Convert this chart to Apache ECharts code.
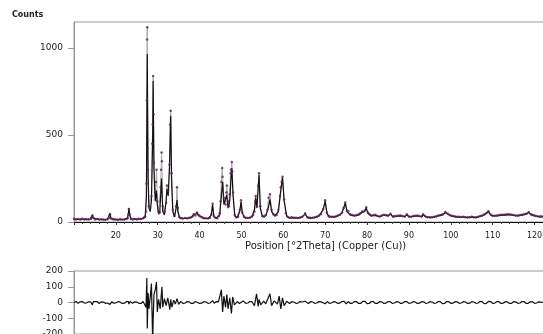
<!DOCTYPE html>
<html><head><meta charset="utf-8">
<script src="https://cdn.jsdelivr.net/npm/echarts@6/dist/echarts.min.js"></script>
<style>html,body{margin:0;padding:0;background:#fff}#c{width:543px;height:334px}</style>
</head><body><div id="c"></div>
<script>
// 2Theta positions / counts — calculated profile
const calcPts = [[10,16],[11,15],[12,16],[13,15],[14,16],[14.2,25],[14.4,40],[14.6,22],[15,16],[16,15],[17,14],[18,15],[18.4,22],[18.6,50],[18.8,22],[19.2,15],[20,14],[21,14],[22,15],[22.8,20],[23,50],[23.1,80],[23.3,40],[23.6,17],[24.5,16],[25.5,17],[26.5,20],[27,30],[27.3,150],[27.5,966],[27.7,250],[27.9,80],[28.2,60],[28.5,120],[28.8,500],[28.9,811],[29.1,300],[29.4,120],[29.7,180],[29.9,100],[30.2,45],[30.5,60],[30.9,250],[31.2,60],[31.6,40],[32,120],[32.2,190],[32.5,150],[32.8,300],[33.1,611],[33.3,250],[33.6,60],[34,30],[34.4,80],[34.6,126],[34.8,60],[35.2,25],[36,20],[37,20],[38,25],[38.6,40],[39,35],[39.4,50],[39.8,35],[40.4,30],[41,20],[42,20],[42.8,40],[43.1,100],[43.4,30],[44,22],[44.8,40],[45.2,150],[45.5,230],[45.8,100],[46.2,90],[46.5,155],[46.8,80],[47.2,120],[47.5,250],[47.7,310],[48,150],[48.4,35],[49,25],[49.6,60],[49.9,116],[50.2,50],[50.8,25],[51.5,22],[52.5,30],[53.1,70],[53.4,140],[53.7,80],[54,200],[54.2,270],[54.5,80],[55,30],[55.8,35],[56.4,80],[56.8,130],[57.2,60],[58,35],[58.8,60],[59.4,180],[59.8,257],[60.2,120],[60.8,35],[61.5,22],[62.5,25],[63.5,22],[64.5,28],[65.2,45],[65.8,25],[66.5,22],[67.5,25],[68.5,35],[69.5,70],[70,120],[70.4,50],[71,30],[72,28],[73,35],[74,50],[74.8,110],[75.2,60],[75.5,60],[76,40],[77,35],[78,40],[78.8,55],[79.4,60],[79.8,80],[80.2,50],[81,35],[82,38],[83,30],[84,40],[85,35],[85.6,45],[86.2,30],[87,32],[88,35],[89,30],[89.5,42],[90,30],[91,32],[92,35],[93,30],[93.4,42],[94,30],[95,25],[96,28],[97,35],[98,40],[98.7,55],[99.3,45],[100,35],[101,30],[102,28],[103,28],[104,25],[105,28],[106,25],[107,32],[108,40],[109,60],[109.6,38],[110,32],[111,35],[112,38],[113,40],[114,42],[115,38],[116,35],[117,40],[118,45],[118.6,55],[119.2,40],[120,35],[121,30],[122,30],[122.5,31]];

// observed counts
const obsPts = [[10,18],[10.5,15],[11,17],[11.5,14],[12,18],[12.5,15],[13,16],[13.5,14],[14,18],[14.2,28],[14.4,38],[14.6,25],[15,15],[15.5,17],[16,14],[16.5,16],[17,15],[17.5,13],[18,16],[18.4,25],[18.6,45],[18.8,20],[19.2,17],[19.5,14],[20,15],[20.5,13],[21,16],[21.5,14],[22,15],[22.5,17],[22.8,22],[23,45],[23.1,75],[23.3,45],[23.6,18],[24,15],[24.5,17],[25,15],[25.5,19],[26,17],[26.5,22],[26.8,28],[27,32],[27.2,60],[27.3,220],[27.4,700],[27.45,1050],[27.5,1120],[27.6,420],[27.7,300],[27.9,90],[28.2,80],[28.5,150],[28.7,450],[28.8,560],[28.9,840],[29,620],[29.1,340],[29.4,170],[29.6,230],[29.7,300],[29.9,120],[30.2,60],[30.5,55],[30.7,200],[30.8,300],[30.9,400],[31,350],[31.2,90],[31.6,60],[32,110],[32.2,210],[32.5,180],[32.8,330],[32.95,560],[33.1,640],[33.3,280],[33.6,70],[34,35],[34.4,90],[34.6,200],[34.8,80],[35.2,28],[35.6,22],[36,20],[36.5,23],[37,21],[37.5,25],[38,28],[38.4,35],[38.6,45],[39,38],[39.4,55],[39.8,40],[40.2,32],[40.6,28],[41,22],[41.5,21],[42,20],[42.5,25],[42.8,45],[43.1,105],[43.4,35],[43.8,25],[44.2,22],[44.6,35],[44.8,50],[45,120],[45.2,230],[45.4,310],[45.5,260],[45.8,140],[46.2,100],[46.4,170],[46.5,210],[46.8,120],[47,90],[47.2,160],[47.4,280],[47.5,300],[47.7,345],[47.8,290],[48,170],[48.4,40],[48.8,28],[49.2,30],[49.6,70],[49.9,125],[50.2,55],[50.6,30],[51,25],[51.5,23],[52,25],[52.5,32],[52.8,40],[53.1,60],[53.3,120],[53.4,150],[53.7,90],[54,210],[54.2,280],[54.5,90],[55,35],[55.4,30],[55.8,40],[56.2,70],[56.5,140],[56.8,160],[57.2,70],[57.6,45],[58,38],[58.4,40],[58.8,70],[59.2,150],[59.4,200],[59.6,230],[59.8,260],[60.2,130],[60.6,50],[61,30],[61.5,24],[62,27],[62.5,25],[63,24],[63.5,23],[64,26],[64.5,30],[65.2,50],[65.8,28],[66.2,24],[66.5,23],[67,25],[67.5,27],[68,30],[68.5,38],[69,45],[69.5,75],[70,125],[70.4,55],[70.8,35],[71,32],[71.5,30],[72,30],[72.5,32],[73,38],[73.5,42],[74,55],[74.4,80],[74.8,112],[75.2,65],[75.5,62],[76,45],[76.5,40],[77,38],[77.5,40],[78,45],[78.4,50],[78.8,60],[79.4,65],[79.8,85],[80.2,55],[80.6,45],[81,38],[81.5,40],[82,42],[82.5,35],[83,32],[83.5,38],[84,42],[84.5,40],[85,38],[85.6,48],[86.2,32],[86.6,35],[87,34],[87.5,37],[88,38],[88.5,34],[89,32],[89.5,45],[90,32],[90.5,30],[91,34],[91.5,36],[92,38],[92.5,34],[93,32],[93.4,45],[94,32],[94.5,28],[95,27],[95.5,28],[96,30],[96.5,33],[97,37],[97.5,40],[98,44],[98.7,58],[99.3,48],[99.8,40],[100.2,36],[100.6,34],[101,32],[101.5,30],[102,30],[102.5,29],[103,30],[103.5,28],[104,27],[104.5,28],[105,30],[105.5,28],[106,27],[106.5,30],[107,35],[107.5,38],[108,44],[108.5,52],[109,62],[109.6,42],[110,35],[110.5,36],[111,37],[111.5,40],[112,41],[112.5,42],[113,43],[113.5,44],[114,45],[114.5,42],[115,40],[115.5,38],[116,37],[116.5,40],[117,42],[117.5,45],[118,48],[118.6,58],[119.2,44],[119.6,40],[120,38],[120.5,35],[121,32],[121.5,33],[122,32],[122.5,30]];

// difference plot
const diffPts = [[10,0],[10.5,6],[11,-5],[11.5,4],[12,6],[12.5,-4],[13,-2],[13.5,5],[14,3],[14.4,-15],[14.6,5],[15,0],[15.5,6],[16,-6],[16.5,4],[17,3],[17.5,-5],[18,-3],[18.6,-12],[19,4],[19.5,-4],[20,-2],[20.5,5],[21,3],[21.5,-6],[22,-4],[22.5,5],[23,5],[23.1,-10],[23.4,6],[24,-5],[24.5,4],[25,3],[25.5,-5],[26,-6],[26.5,6],[26.8,12],[27.2,-30],[27.4,155],[27.5,-165],[27.7,60],[27.9,-40],[28.2,30],[28.5,120],[28.8,-260],[28.9,-120],[29.1,50],[29.4,80],[29.7,130],[29.9,-60],[30.2,20],[30.6,-40],[31,100],[31.2,-30],[31.6,25],[32,-20],[32.4,30],[32.9,-45],[33.1,20],[33.4,-30],[33.8,15],[34.2,-10],[34.6,25],[35,-12],[35.5,7],[36,-5],[36.5,-4],[37,6],[37.5,4],[38,-6],[38.5,-5],[39,6],[39.4,8],[40,-6],[40.5,-4],[41,5],[41.5,3],[42,-5],[42.5,-3],[43.1,12],[43.5,-5],[44,6],[44.5,4],[45.2,80],[45.5,-60],[45.8,40],[46.2,-30],[46.5,50],[46.8,-40],[47.2,30],[47.6,-70],[47.9,35],[48.3,-15],[49,6],[49.5,-6],[49.9,-15],[50.4,10],[51,-5],[51.5,-3],[52,6],[52.5,5],[53.1,-20],[53.6,55],[54,-25],[54.2,20],[54.6,-15],[55.3,8],[55.8,-8],[56.4,30],[56.8,55],[57.2,-20],[57.8,10],[58.6,-10],[59,40],[59.4,-40],[59.8,30],[60.2,-20],[60.8,8],[61.5,-6],[62,5],[62.5,3],[63,-5],[63.5,-4],[64,6],[64.5,3],[65.2,8],[66,-6],[66.5,5],[67,3],[67.5,-5],[68,-3],[68.5,6],[69,4],[70,-8],[70.5,6],[71,-5],[71.5,-3],[72,5],[72.5,4],[73,-6],[73.5,-4],[74,6],[74.5,8],[75,-8],[75.5,6],[76,-6],[76.5,-4],[77,6],[77.5,5],[78,-6],[78.5,-5],[79,7],[79.5,8],[80,-7],[80.5,-6],[81,6],[81.5,5],[82,-6],[82.5,-5],[83,5],[83.5,4],[84,-6],[84.5,-4],[85,6],[85.5,5],[86,-5],[86.5,-3],[87,5],[87.5,4],[88,-6],[88.5,-4],[89,6],[89.5,5],[90,-5],[90.5,-3],[91,5],[91.5,3],[92,-6],[92.5,-4],[93,5],[93.5,4],[94,-5],[94.5,-3],[95,5],[95.5,3],[96,-5],[96.5,-3],[97,6],[97.5,5],[98,-7],[98.5,-6],[99,6],[99.5,5],[100,-5],[100.5,-4],[101,5],[101.5,4],[102,-5],[102.5,-3],[103,5],[103.5,3],[104,-6],[104.5,-4],[105,5],[105.5,3],[106,-5],[106.5,-3],[107,6],[107.5,5],[108,-7],[108.5,-6],[109,7],[109.5,6],[110,-5],[110.5,-4],[111,6],[111.5,5],[112,-6],[112.5,-4],[113,5],[113.5,4],[114,-6],[114.5,-5],[115,5],[115.5,4],[116,-5],[116.5,-3],[117,6],[117.5,5],[118,-6],[118.5,-5],[119,5],[119.5,4],[120,-5],[120.5,-3],[121,4],[121.5,3],[122,0],[122.5,3]];

const xTitle = 'Position [°2Theta] (Copper (Cu))';
const yTitle = 'Counts';

const FONT = 'DejaVu Sans';
const chart = echarts.init(document.getElementById('c'), null, {renderer: 'canvas'});
const lbl = {fontFamily: FONT, fontSize: 8, color: '#222'};
chart.setOption({
  animation: false,
  backgroundColor: '#fff',
  grid: [
    {left: 74, right: -2, top: 22, height: 200, show: true, borderColor: '#999', borderWidth: 1, outerBoundsMode: 'none'},
    {left: 74, right: -2, top: 271, height: 63, show: true, borderColor: '#999', borderWidth: 1, outerBoundsMode: 'none'}
  ],
  xAxis: [
    {gridIndex: 0, type: 'value', min: 10, max: 122.5, interval: 10,
     axisLine: {show: true, onZero: false, lineStyle: {color: '#111', width: 1}},
     axisTick: {show: true, length: 3, lineStyle: {color: '#333'}},
     minorTick: {show: true, splitNumber: 5, length: 2, lineStyle: {color: '#444'}},
     axisLabel: {...lbl, margin: 10, showMinLabel: false, showMaxLabel: false, formatter: v => v === 10 ? '' : String(v)},
     splitLine: {show: false}},
    {gridIndex: 1, type: 'value', min: 10, max: 122.5, interval: 10,
     axisLine: {show: false}, axisTick: {show: false}, axisLabel: {show: false}, splitLine: {show: false}}
  ],
  yAxis: [
    {gridIndex: 0, type: 'value', min: 0, max: 1150, interval: 500,
     axisLine: {show: true, lineStyle: {color: '#999'}},
     axisTick: {show: true, length: 6, lineStyle: {color: '#999'}},
     axisLabel: {...lbl, fontSize: 9, margin: 11, showMaxLabel: false, formatter: v => String(v)},
     splitLine: {show: false}},
    {gridIndex: 1, type: 'value', min: -200, max: 200, interval: 100,
     axisLine: {show: true, lineStyle: {color: '#999'}},
     axisTick: {show: true, length: 6, lineStyle: {color: '#999'}},
     axisLabel: {...lbl, fontSize: 9, margin: 11, formatter: v => String(v)},
     splitLine: {show: false}}
  ],
  series: [
    {type: 'line', xAxisIndex: 0, yAxisIndex: 0, data: obsPts, showSymbol: false,
     lineStyle: {color: '#aaaaaa', width: 1}, z: 1},
    {type: 'line', xAxisIndex: 0, yAxisIndex: 0, data: calcPts, showSymbol: false,
     lineStyle: {color: '#111111', width: 1.2}, z: 2},
    {type: 'scatter', xAxisIndex: 0, yAxisIndex: 0, data: obsPts, symbol: 'circle', symbolSize: 2.5,
     itemStyle: {color: '#5e2057'}, z: 3},
    {type: 'line', xAxisIndex: 1, yAxisIndex: 1, data: diffPts, showSymbol: false, clip: true,
     lineStyle: {color: '#111111', width: 1.2}, z: 2}
  ],
  graphic: [
    {type: 'text', left: 12, top: 11, style: {text: yTitle, fontFamily: FONT, fontSize: 8, fontWeight: 'bold', fill: '#222'}},
    {type: 'text', left: 245, top: 241, style: {text: xTitle, fontFamily: FONT, fontSize: 10, fill: '#222'}}
  ]
});
</script></body></html>
